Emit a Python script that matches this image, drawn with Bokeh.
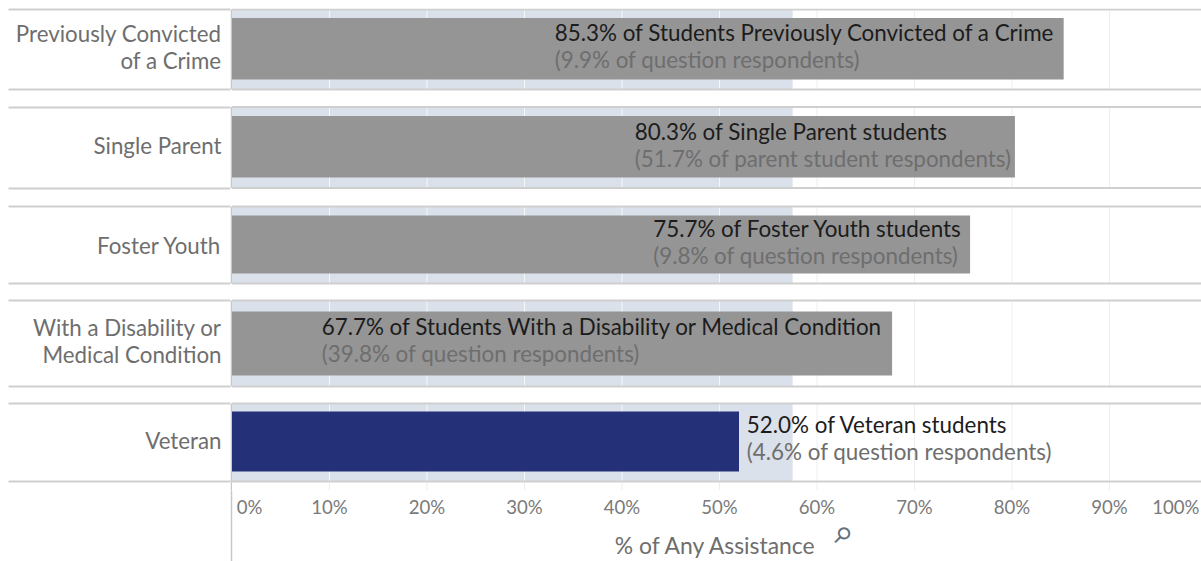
import math
from bokeh.plotting import figure
from bokeh.models import Range1d, LinearAxis, FixedTicker, ColumnDataSource
from bokeh.core.properties import value
from bokeh.embed import file_html
from bokeh.resources import INLINE

# ---- data ----
categories = ["Previously Convicted\nof a Crime", "Single Parent", "Foster Youth",
              "With a Disability or\nMedical Condition", "Veteran"]
assistance = [85.3, 80.3, 75.7, 67.7, 52.0]
overall_band = 57.5
headline = ["85.3% of Students Previously Convicted of a Crime",
            "80.3% of Single Parent students",
            "75.7% of Foster Youth students",
            "67.7% of Students With a Disability or Medical Condition",
            "52.0% of Veteran students"]
subline = ["(9.9% of question respondents)",
           "(51.7% of parent student respondents)",
           "(9.8% of question respondents)",
           "(39.8% of question respondents)",
           "(4.6% of question respondents)"]
label_start = [33.1, 41.3, 43.2, 9.2, 52.8]
grid_ticks = [10, 20, 30, 40, 50, 60, 70, 80, 90]
tick_text = ["0%", "10%", "20%", "30%", "40%", "50%", "60%", "70%", "80%", "90%", "100%"]
tick_place = [1.8, 10, 20, 30, 40, 50, 60, 70, 80, 90, 96.8]
pin_place = 62.0

# ---- layout (pixels per row unit / per percent) ----
ROW = 98.25
PCT = 9.75
row_shift = [0.0, -0.25, -1.0, -0.75, 0.0]
band_px = [80, 81, 77, 86, 78]
bar_px = [61.5, 61.5, 58, 64, 60]
bar_shift = [-0.75, -1.0, -1.5, -0.75, -1.0]
text_shift = [-1.75, -1.0, -2.5, -2.75, -3.0]
cat_shift = [-2.5, -2.0, -1.0, -3.0, -2.0]
FONT = "Lato"
W, H = 1201, 561
FRAME_LEFT = 230
ZERO_PX = 231.5
FRAME_BOTTOM = 490

rows = list(range(len(categories)))
band_mid = [r + s / ROW for r, s in zip(rows, row_shift)]
band_top = [m - h / ROW / 2 for m, h in zip(band_mid, band_px)]
band_bot = [m + h / ROW / 2 for m, h in zip(band_mid, band_px)]
bar_mid = [r + s / ROW for r, s in zip(rows, bar_shift)]
text_mid = [r + s / ROW for r, s in zip(rows, text_shift)]
cat_mid = [r + s / ROW for r, s in zip(rows, cat_shift)]
bar_h = [h / ROW for h in bar_px]
colors = ["#959596"] * 4 + ["#243178"]
y_end = 4 + (FRAME_BOTTOM - 442) / ROW
rule_x = -0.75 / PCT

p = figure(width=W, height=H, output_backend="svg", toolbar_location=None,
           x_range=Range1d((FRAME_LEFT - ZERO_PX) / PCT, (W - ZERO_PX) / PCT),
           y_range=Range1d(y_end, -41 / ROW),
           x_axis_type=None, y_axis_type=None,
           min_border_left=FRAME_LEFT, min_border_right=0, min_border_top=8,
           min_border_bottom=0, outline_line_color=None)
p.xgrid.visible = False
p.ygrid.visible = False

# comparison band
p.quad(left=[0] * 5, right=[overall_band] * 5, top=band_top, bottom=band_bot,
       fill_color="#dbe1ea", line_color=None)

# grid inside each row only, plus short ticks under the last row
gx, gy0, gy1, gc = [], [], [], []
for t in grid_ticks:
    for a, b in zip(band_top, band_bot):
        gx.append(t); gy0.append(a); gy1.append(b)
        gc.append("#f7f8fa" if t < overall_band else "#eeeeee")
    gx.append(t); gy0.append(band_bot[-1]); gy1.append(y_end); gc.append("#eeeeee")
p.segment(x0="x", x1="x", y0="a", y1="b", line_color="c", line_width=1,
          source=ColumnDataSource(dict(x=gx, a=gy0, b=gy1, c=gc)))

# row frame
p.segment(x0=[rule_x] * 5, x1=[rule_x] * 5, y0=band_top, y1=band_bot,
          line_color="#c8c8c8", line_width=1.5)
p.segment(x0=[rule_x], x1=[rule_x], y0=[band_bot[-1]], y1=[y_end],
          line_color="#c8c8c8", line_width=1.5)

p.hbar(y=bar_mid, left=[0] * 5, right=assistance, height=bar_h,
       fill_color=colors, line_color=None)

p.text(x=label_start, y=text_mid, text=headline, text_font=value(FONT),
       text_font_size="22.4px", text_color="#1c1c1c", text_baseline="middle",
       text_align="left", y_offset=-15)
p.text(x=label_start, y=text_mid, text=subline, text_font=value(FONT),
       text_font_size="22.4px", text_color="#6e6e6e", text_baseline="middle",
       text_align="left", y_offset=12)

# y axis: categories, with the row rules as minor ticks
RULE_LEN = FRAME_LEFT - 8
yaxis = LinearAxis(ticker=FixedTicker(ticks=cat_mid, minor_ticks=band_top + band_bot),
                   major_label_overrides={r: c for r, c in zip(cat_mid, categories)},
                   axis_line_color=None, major_tick_line_color=None,
                   major_tick_out=0, major_tick_in=0,
                   minor_tick_line_color="#cfcfcf", minor_tick_line_width=2,
                   minor_tick_out=RULE_LEN, minor_tick_in=0,
                   major_label_standoff=9 - RULE_LEN,
                   major_label_text_font=FONT, major_label_text_font_size="22.3px",
                   major_label_text_color="#6e6e6e", major_label_text_line_height=1.0)
p.add_layout(yaxis, "left")

# rules continue across the plot area
p.segment(x0=[0] * 10, x1=[200] * 10, y0=band_top + band_bot, y1=band_top + band_bot,
          line_color="#cfcfcf", line_width=2)

# x axis: the vertical rule under the frame is its one minor tick
DROP = H - FRAME_BOTTOM
xaxis = LinearAxis(ticker=FixedTicker(ticks=tick_place, minor_ticks=[rule_x]),
                   major_label_overrides={t: s for t, s in zip(tick_place, tick_text)},
                   axis_line_color=None, major_tick_line_color=None,
                   major_tick_out=0, major_tick_in=0,
                   minor_tick_line_color="#c8c8c8", minor_tick_line_width=1.5,
                   minor_tick_out=DROP, minor_tick_in=0,
                   major_label_standoff=5 - DROP, major_label_orientation="horizontal",
                   major_label_text_font=FONT, major_label_text_font_size="18.6px",
                   major_label_text_color="#7a7a7a",
                   axis_label="% of Any Assistance", axis_label_standoff=10,
                   axis_label_text_font=FONT, axis_label_text_font_style="normal",
                   axis_label_text_font_size="22.9px", axis_label_text_color="#6e6e6e")
p.add_layout(xaxis, "below")

# pin icon: a zero-height axis whose one label sits beside the axis title
pin_axis = LinearAxis(ticker=FixedTicker(ticks=[pin_place], minor_ticks=[]),
                      major_label_overrides={pin_place: "\u26b2"},
                      axis_line_color=None, major_tick_line_color=None,
                      minor_tick_line_color=None,
                      major_tick_out=0, major_tick_in=0, minor_tick_out=0, minor_tick_in=0,
                      major_label_standoff=-32,
                      major_label_orientation=-math.pi / 4,
                      major_label_text_font="DejaVu Sans",
                      major_label_text_font_style="bold",
                      major_label_text_font_size="22px",
                      major_label_text_color="#66717f")
p.add_layout(pin_axis, "below")

open("out.html", "w").write(file_html(p, INLINE))
